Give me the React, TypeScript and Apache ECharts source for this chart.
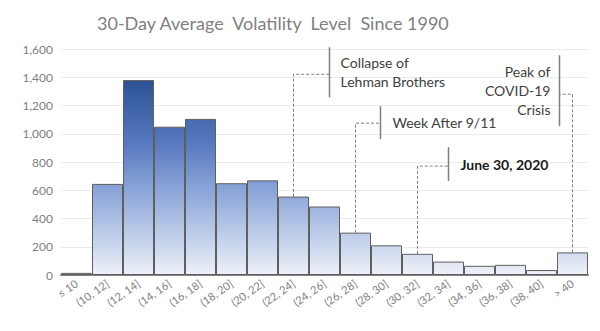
import React, { useEffect, useRef } from "react";
import * as echarts from "echarts";

const categories = ["≤ 10", "(10, 12]", "(12, 14]", "(14, 16]", "(16, 18]", "(18, 20]", "(20, 22]", "(22, 24]", "(24, 26]", "(26, 28]", "(28, 30]", "(30, 32]", "(32, 34]", "(34, 36]", "(36, 38]", "(38, 40]", "> 40"];
const counts = [15, 645, 1380, 1050, 1105, 650, 670, 555, 485, 300, 210, 150, 95, 65, 72, 35, 160];

const annotationTexts = ["Collapse of\nLehman Brothers", "Week After 9/11", "June 30, 2020", "Peak of\nCOVID-19\nCrisis"];
const annotationCategories = [7, 9, 11, 16];
const annotationElbowValues = [1421, 1075, 771, 1280];

// layout of annotations (pixel offsets)
const annotationLayout = [
  { dx: 36, up: 27, down: 23, gap: 11, align: "left", bold: false },
  { dx: 25, up: 17, down: 16, gap: 12, align: "left", bold: false },
  { dx: 31, up: 19, down: 15, gap: 12, align: "left", bold: true },
  { dx: -13, up: 39, down: 32, gap: 9, align: "right", bold: false },
];

const FONT = "Lato";

export default function App() {
  const ref = useRef<HTMLDivElement>(null);
  useEffect(() => {
    if (!ref.current) return;
    const chart = echarts.init(ref.current, null, { renderer: "svg" });
    const gridTop = 49;
    const gridBottom = 56;
    const height = 331;
    chart.setOption({
      animation: false,
      title: {
        text: "30-Day Average  Volatility  Level  Since 1990",
        left: 92,
        top: 9,
        textStyle: { fontFamily: FONT, fontSize: 18, fontWeight: "normal", color: "#7f7f7f" },
      },
      grid: { left: 61, right: 12, top: gridTop, bottom: gridBottom },
      xAxis: {
        type: "category",
        data: categories,
        axisLine: { lineStyle: { color: "#808080", width: 2 } },
        axisTick: { show: false },
        axisLabel: { interval: 0, rotate: 35, fontSize: 11, color: "#7f7f7f", fontFamily: FONT, margin: 7 },
      },
      yAxis: {
        type: "value",
        min: 0,
        max: 1600,
        interval: 200,
        axisLine: { show: false },
        axisTick: { show: false },
        splitLine: { lineStyle: { color: "#ebebeb" } },
        axisLabel: {
          fontSize: 12,
          color: "#7f7f7f",
          fontFamily: FONT,
          margin: 8,
          formatter: (v: number) => v.toLocaleString("en-US"),
        },
      },
      series: [
        {
          type: "bar",
          data: counts,
          barCategoryGap: "0%",
          itemStyle: {
            borderColor: "#5f5f5f",
            borderWidth: 1,
            color: {
              type: "linear",
              x: 0, y: gridTop, x2: 0, y2: height - gridBottom,
              global: true,
              colorStops: [
                { offset: 0, color: "#203f80" },
                { offset: 0.15, color: "#2e5497" },
                { offset: 0.42, color: "#5879bf" },
                { offset: 0.6, color: "#84a0d6" },
                { offset: 0.85, color: "#c5d2ec" },
                { offset: 1, color: "#eef1f8" },
              ],
            },
          },
        },
      ],
    });

    const graphics: any[] = [];
    annotationTexts.forEach((txt, i) => {
      const ci = annotationCategories[i];
      const lay = annotationLayout[i];
      const top = chart.convertToPixel({ seriesIndex: 0 }, [ci, counts[ci]]) as number[];
      const elbow = chart.convertToPixel({ seriesIndex: 0 }, [ci, annotationElbowValues[i]]) as number[];
      const x = top[0];
      const bx = x + lay.dx;
      const dash = { stroke: "#7f7f7f", lineWidth: 1, lineDash: [3, 2] };
      graphics.push({ type: "polyline", shape: { points: [[x, top[1]], [x, elbow[1]], [bx, elbow[1]]] }, style: { ...dash, fill: null }, silent: true });
      graphics.push({ type: "line", shape: { x1: bx, y1: elbow[1] - lay.up, x2: bx, y2: elbow[1] + lay.down }, style: { stroke: "#7f7f7f", lineWidth: 1.5 }, silent: true });
      graphics.push({
        type: "text",
        x: lay.align === "left" ? bx + lay.gap : bx - lay.gap,
        y: elbow[1] + (lay.down - lay.up) / 2,
        style: {
          text: txt,
          fontFamily: FONT,
          fontSize: 14,
          fontWeight: lay.bold ? "bold" : "normal",
          fill: lay.bold ? "#1a1a1a" : "#404040",
          align: lay.align,
          verticalAlign: "middle",
          lineHeight: 19,
        },
        silent: true,
      });
    });
    chart.setOption({ graphic: graphics });
    return () => chart.dispose();
  }, []);
  return <div ref={ref} style={{ width: 600, height: 331, position: "absolute", left: 0, top: 0 }} />;
}
